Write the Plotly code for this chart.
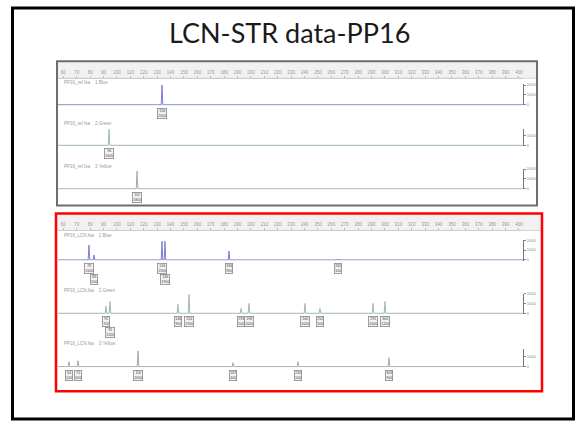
import plotly.graph_objects as go

W, H = 579, 424

# ---------------- data ----------------
title_text = "LCN-STR data-PP16"
bp_range = [56, 403]
ruler_ticks = list(range(60, 401, 10))

# upper panel (reference profile)
u1_sizes = [133.6]
u1_rfu = [2000]
u2_sizes = [94.1]
u2_rfu = [1600]
u3_sizes = [115.0]
u3_rfu = [1800]

# lower panel (LCN profile)
l1_sizes = [79.1, 82.9, 133.6, 135.8, 183.6, 264.9]
l1_rfu = [1500, 500, 1900, 1900, 900, 100]
l2_sizes = [91.8, 94.8, 145.5, 153.8, 192.6, 198.5, 240.3, 251.5, 291.1, 300.0]
l2_rfu = [700, 1200, 900, 1900, 500, 1000, 1000, 500, 1000, 1200]
l3_sizes = [64.2, 70.9, 115.7, 186.6, 235.1, 303.0]
l3_rfu = [500, 600, 1600, 400, 500, 900]

axis_max = [2100, 1700, 2000, 2000, 2000, 1800]
dye_names = ["1 Blue", "2 Green", "3 Yellow", "1 Blue", "2 Green", "3 Yellow"]
sample_names = ["PP16_ref.fsa"] * 3 + ["PP16_LCN.fsa"] * 3

# ---------------- layout geometry (pixels) ----------------
baseline_px = [103, 144, 188, 260, 314, 368]
axistop_px = [82, 127, 168, 240, 294, 350]
label_px = [80, 122, 165, 235, 291, 345]
colors = ["#7b7fd0", "#9fbab0", "#a9a9a9", "#7b7fd0", "#9fbab0", "#a9a9a9"]
XL, XR = 58, 523


def px(x):
    return x / W


def py(y):
    return 1 - y / H


def ax(letter, n):
    return letter if n == 1 else f"{letter}{n}"


series = [(u1_sizes, u1_rfu), (u2_sizes, u2_rfu), (u3_sizes, u3_rfu),
          (l1_sizes, l1_rfu), (l2_sizes, l2_rfu), (l3_sizes, l3_rfu)]

fig = go.Figure()
annotations = []
layout_axes = {}

for i, (sizes, rfu) in enumerate(series):
    n = i + 1
    xs, ys = [bp_range[0]], [0]
    for s, r in sorted(zip(sizes, rfu)):
        xs += [s - 0.6, s, s + 0.6]
        ys += [0, r, 0]
    xs.append(bp_range[1])
    ys.append(0)
    fig.add_trace(go.Scatter(x=xs, y=ys, mode="lines",
                             line=dict(color=colors[i], width=1),
                             xaxis=ax("x", n), yaxis=ax("y", n),
                             hoverinfo="skip", showlegend=False))

    ymax = axis_max[i]
    b, t = baseline_px[i], axistop_px[i]
    ylow = -60
    pxper = (b - t) / ymax
    bottom = b + (-ylow) * pxper
    dom_h = bottom - t
    xkey = "xaxis" if n == 1 else f"xaxis{n}"
    ykey = "yaxis" if n == 1 else f"yaxis{n}"
    xa = dict(domain=[px(XL), px(XR)], range=bp_range, showgrid=False,
              zeroline=False, anchor=ax("y", n), visible=False)
    if n in (1, 4):
        xa.update(visible=True, anchor="free",
                  position=py(76 if n == 1 else 230), side="top",
                  tickvals=ruler_ticks, ticktext=[str(v) for v in ruler_ticks],
                  tickfont=dict(size=4.5, color="#999999", family="Liberation Sans"),
                  ticks="outside", ticklen=2, tickcolor="#bbbbbb",
                  showline=True, linecolor="#cccccc", linewidth=1)
    layout_axes[xkey] = xa
    layout_axes[ykey] = dict(domain=[py(bottom), py(t)], range=[ylow, ymax],
                             side="right", anchor=ax("x", n), showgrid=False,
                             zeroline=False, showline=True, linecolor="#777777",
                             linewidth=1, ticks="outside", ticklen=2,
                             tickcolor="#888888",
                             tickvals=[0, 1000, 2000][: (ymax // 1000) + 1],
                             tickfont=dict(size=4, color="#888888",
                                           family="Liberation Sans"))

    # sample / dye header
    annotations.append(dict(xref="paper", yref="paper", x=px(62), y=py(label_px[i]),
                            text=f"{sample_names[i]}&nbsp;&nbsp;&nbsp;&nbsp;{dye_names[i]}",
                            showarrow=False, xanchor="left", yanchor="middle",
                            font=dict(size=4.5, color="#9a9a9a", family="Liberation Sans")))

    # peak labels (size / height), stacked when peaks are close
    prev = None
    for s, r in sorted(zip(sizes, rfu)):
        tier = 1 if (prev is not None and s - prev < 5) else 0
        prev = s
        off_px = 3 if tier == 0 else 14
        y_dom = (bottom - (b + off_px)) / dom_h
        annotations.append(dict(xref=ax("x", n), yref=ax("y", n) + " domain", x=s,
                                y=y_dom, text=f"{s:.0f}<br>{r}",
                                showarrow=False, xanchor="center", yanchor="top",
                                bordercolor="#888888", borderwidth=0.8, borderpad=0.5,
                                bgcolor="#f2f2f2",
                                font=dict(size=3.5, color="#444444",
                                          family="Liberation Sans Narrow, Liberation Sans")))

annotations.append(dict(xref="paper", yref="paper", x=0.5, y=py(30),
                        text=title_text, showarrow=False, xanchor="center",
                        yanchor="middle",
                        font=dict(size=27, color="#1a1a1a", family="Lato")))


def rect(x0, y0, x1, y1, **kw):
    return dict(type="rect", xref="paper", yref="paper",
                x0=px(x0), x1=px(x1), y0=py(y1), y1=py(y0), **kw)


def hline(x0, x1, y, color):
    return dict(type="line", xref="paper", yref="paper",
                x0=px(x0), x1=px(x1), y0=py(y), y1=py(y),
                line=dict(color=color, width=1))


shapes = [
    rect(58, 60, 536, 75, fillcolor="#f1f1f1", line=dict(width=0), layer="below"),
    rect(57, 214, 541, 229, fillcolor="#f1f1f1", line=dict(width=0), layer="below"),
    hline(58, 536, 76, "#cccccc"),
    hline(57, 541, 230, "#cccccc"),
    rect(12.5, 5, 573.5, 421, line=dict(color="black", width=3)),
    rect(57, 59, 537, 205, line=dict(color="#6d6d6d", width=2)),
    rect(56, 213, 542, 393, line=dict(color="#ff0000", width=2.5)),
]

fig.update_layout(width=W, height=H, margin=dict(l=0, r=0, t=0, b=0),
                  paper_bgcolor="white", plot_bgcolor="rgba(0,0,0,0)",
                  showlegend=False, annotations=annotations, shapes=shapes,
                  **layout_axes)

fig.write_html("out.html", config={"displayModeBar": False},
               post_script="document.body.style.margin='0';"
                           "document.body.style.overflow='hidden';")
